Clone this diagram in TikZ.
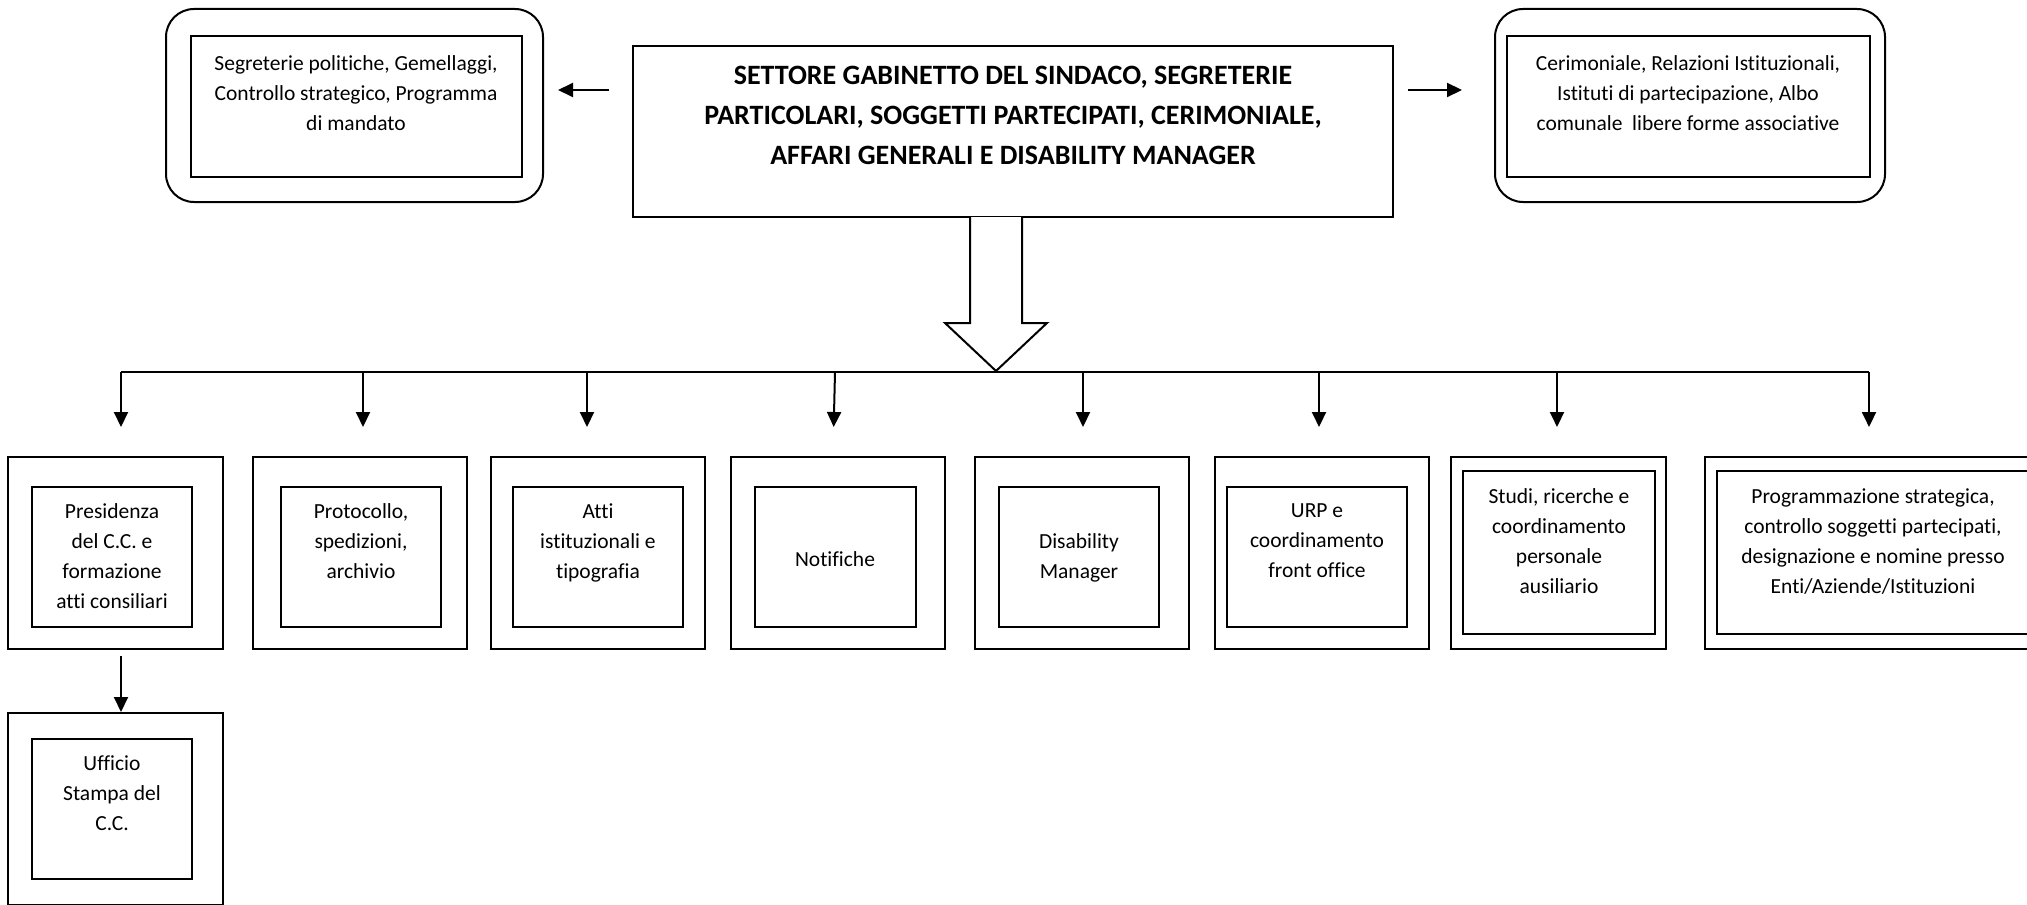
\documentclass[tikz,border=0pt]{standalone}
\usepackage{fontspec}
\setmainfont{Carlito}[Ligatures={NoCommon,NoContextual}]
\usetikzlibrary{arrows.meta,fit}
\begin{document}
\begin{tikzpicture}[x=0.5pt,y=-0.5pt,
  line width=1pt,
  obox/.style={draw, inner sep=0pt, line width=1pt},
  ibox/.style={draw, inner sep=0pt, line width=1pt},
  rbox/.style={draw, rounded corners=14pt, inner sep=0pt, line width=1pt},
  txt/.style={align=center, inner sep=0pt, anchor=north,
    font=\fontsize{10.75pt}{15pt}\selectfont},
  head/.style={align=center, inner sep=0pt, anchor=north,
    font=\fontsize{14pt}{20pt}\selectfont\bfseries},
  arr/.style={-{Triangle[length=7.5pt,width=7pt]}, line width=1pt},
]
\clip (0,0) rectangle (2027,904);

% top row: main sector and its two side offices
\node[obox, fit={(633,46) (1393,217)}] (main) {};
\node[head] (mainT) at (1013,65) {SETTORE GABINETTO DEL SINDACO, SEGRETERIE\\PARTICOLARI, SOGGETTI PARTECIPATI, CERIMONIALE,\\AFFARI GENERALI E DISABILITY MANAGER};

\node[rbox, fit={(166,9) (543,202)}] (lo) {};
\node[ibox, fit={(191,36) (522,177)}] (li) {};
\node[txt] (lt) at (356,55) {Segreterie politiche, Gemellaggi,\\Controllo strategico, Programma\\di mandato};

\node[rbox, fit={(1495,9) (1885,202)}] (ro) {};
\node[ibox, fit={(1507,36) (1870,177)}] (ri) {};
\node[txt] (rt) at (1688,55) {Cerimoniale, Relazioni Istituzionali,\\Istituti di partecipazione, Albo\\comunale\ \ libere forme associative};

\coordinate (sy) at (0,90);
\draw[arr, shorten <=11.5pt, shorten >=7pt] (main.west |- sy) -- (lo.east |- sy);
\draw[arr, shorten <=7pt, shorten >=16pt] (main.east |- sy) -- (ro.west |- sy);

% offices row
\node[obox, fit={(8,457) (223,649)}] (b1) {};
\node[ibox, fit={(32,487) (192,627)}] (b1i) {};
\node[txt] (b1t) at (112,503) {Presidenza\\del C.C. e\\formazione\\atti consiliari};

\node[obox, fit={(253,457) (467,649)}] (b2) {};
\node[ibox, fit={(281,487) (441,627)}] (b2i) {};
\node[txt] (b2t) at (361,503) {Protocollo,\\spedizioni,\\archivio};

\node[obox, fit={(491,457) (705,649)}] (b3) {};
\node[ibox, fit={(513,487) (683,627)}] (b3i) {};
\node[txt] (b3t) at (598,503) {Atti\\istituzionali e\\tipografia};

\node[obox, fit={(731,457) (945,649)}] (b4) {};
\node[ibox, fit={(755,487) (916,627)}] (b4i) {};
\node[txt] (b4t) at (835,551) {Notifiche};

\node[obox, fit={(975,457) (1189,649)}] (b5) {};
\node[ibox, fit={(999,487) (1159,627)}] (b5i) {};
\node[txt] (b5t) at (1079,533) {Disability\\Manager};

\node[obox, fit={(1215,457) (1429,649)}] (b6) {};
\node[ibox, fit={(1227,487) (1407,627)}] (b6i) {};
\node[txt] (b6t) at (1317,503) {URP e\\coordinamento\\front office};

\node[obox, fit={(1451,457) (1666,649)}] (b7) {};
\node[ibox, fit={(1463,471) (1655,634)}] (b7i) {};
\node[txt] (b7t) at (1559,488) {Studi, ricerche e\\coordinamento\\personale\\ausiliario};

\node[obox, fit={(1705,457) (2037,649)}] (b8) {};
\node[ibox, fit={(1717,471) (2029,634)}] (b8i) {};
\node[txt] (b8t) at (1873,488) {Programmazione strategica,\\controllo soggetti partecipati,\\designazione e nomine presso\\Enti/Aziende/Istituzioni};

\node[obox, fit={(8,713) (223,905)}] (b9) {};
\node[ibox, fit={(32,739) (192,879)}] (b9i) {};
\node[txt] (b9t) at (112,755) {Ufficio\\Stampa del\\C.C.};

% hollow block arrow down to the distribution line
\draw[fill=white, line width=1pt] (970,217) -- (970,323) -- (945,323) -- (996,371)
  -- (1047,323) -- (1022,323) -- (1022,217);

% distribution line and drops
\coordinate (j1) at (121,372);
\coordinate (j2) at (363,372);
\coordinate (j3) at (587,372);
\coordinate (j4) at (835,372);
\coordinate (j5) at (1083,372);
\coordinate (j6) at (1319,372);
\coordinate (j7) at (1557,372);
\coordinate (j8) at (1869,372);
\draw (j1) -- (j8);
\foreach \j/\b in {j1/b1,j2/b2,j3/b3,j5/b5,j6/b6,j7/b7,j8/b8}
  \draw[arr, shorten >=14.5pt] (\j) -- (\j |- \b.north);
\draw[arr, shorten >=14.5pt] (j4) -- ([xshift=-1pt]j4 |- b4.north);
\draw[arr, shorten <=3pt] (j1 |- b1.south) -- (j1 |- b9.north);
\end{tikzpicture}
\end{document}
